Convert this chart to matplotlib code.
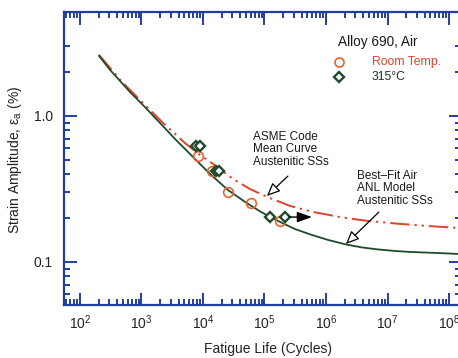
import matplotlib
matplotlib.use("Agg")
import matplotlib.pyplot as plt
from matplotlib.ticker import FixedLocator, NullFormatter, FixedFormatter

plt.rcParams['font.family'] = ['Liberation Sans', 'DejaVu Sans']
plt.rcParams['mathtext.fontset'] = 'custom'
plt.rcParams['mathtext.rm'] = 'Liberation Sans'
plt.rcParams['mathtext.it'] = 'Liberation Sans:italic'

# Best-fit air curve (ANL model, austenitic stainless steels)
anl_cycles = [204, 308, 447, 650, 1140, 2000, 3510, 6870, 13000, 25500, 48200, 87700,
              179000, 313000, 592000, 1.08e6, 2.11e6, 3.85e6, 7.02e6, 1.32e7, 2.41e7,
              5.92e7, 1.40e8, 1.6e8]
anl_strain = [2.58, 2.07, 1.74, 1.46, 1.15, 0.896, 0.696, 0.524, 0.401, 0.311, 0.258, 0.220,
              0.188, 0.168, 0.153, 0.1415, 0.1318, 0.1257, 0.1218, 0.1189, 0.117,
              0.1153, 0.1135, 0.1133]

# ASME Code mean curve (austenitic stainless steels)
asme_cycles = [204, 482, 1140, 2240, 5090, 8930, 14600, 30800, 58100, 110000,
               260000, 615000, 1.69e6, 4.31e6, 1.32e7, 4.39e7, 1.40e8, 1.6e8]
asme_strain = [2.62, 1.71, 1.19, 0.896, 0.653, 0.541, 0.469, 0.370, 0.316, 0.279,
               0.242, 0.220, 0.203, 0.192, 0.1835, 0.1765, 0.171, 0.1705]

# Alloy 690 in air: room temperature tests
rt_cycles = [8300, 14000, 25500, 60300, 178600]
rt_strain = [0.532, 0.42, 0.302, 0.254, 0.191]

# Alloy 690 in air: 315 degC tests
ht_cycles = [7700, 8930, 16300, 18200, 122700, 215000]
ht_strain = [0.623, 0.623, 0.42, 0.42, 0.203, 0.203]

# run-out test (no failure) at 315 degC
runout_start = 215000
runout_end = 592000
runout_strain = 0.203

x_major = [1e2, 1e3, 1e4, 1e5, 1e6, 1e7, 1e8]
x_labels = ['$\\mathregular{10^{2}}$', '$\\mathregular{10^{3}}$', '$\\mathregular{10^{4}}$',
            '$\\mathregular{10^{5}}$', '$\\mathregular{10^{6}}$', '$\\mathregular{10^{7}}$',
            '$\\mathregular{10^{8}}$']
y_major = [0.1, 1.0]
y_labels = ['0.1', '1.0']
y_minor = [0.06, 0.07, 0.08, 0.09, 0.2, 0.3, 0.4, 0.5, 0.6, 0.7, 0.8, 0.9, 2, 3]

W, H = 458, 358
fig = plt.figure(figsize=(W / 100, H / 100), dpi=100)
ax = fig.add_axes([64 / W, 1 - 305 / H, 397 / W, 293 / H])
ax.set_xscale('log')
ax.set_yscale('log')
ax.set_xlim(54.95, 1.567e8)
ax.set_ylim(0.0507, 5.157)

spine_col = '#233f9e'
green = '#1f4a2c'
red = '#e2412a'

ax.plot(asme_cycles, asme_strain, color=red, lw=1.4,
        linestyle=(0, (10, 2.5, 1.2, 2.5, 1.2, 2.5)), zorder=2)
ax.plot(anl_cycles, anl_strain, color=green, lw=1.3, zorder=3)

ax.plot(rt_cycles, rt_strain, linestyle='none', marker='o', ms=7, mfc='none',
        mec='#e5642e', mew=1.2, zorder=4)
ax.plot(ht_cycles, ht_strain, linestyle='none', marker='D', ms=5.5, mfc='white',
        mec=green, mew=1.7, zorder=5)

ax.annotate('', xy=(runout_end, runout_strain), xytext=(runout_start, runout_strain),
            arrowprops=dict(arrowstyle='-|>,head_length=0.9,head_width=0.32',
                            color='black', lw=1.0, shrinkA=3, shrinkB=0), zorder=6)

# axis styling
for s in ax.spines.values():
    s.set_color(spine_col)
    s.set_linewidth(1.6)
ax.xaxis.set_major_locator(FixedLocator(x_major))
ax.xaxis.set_major_formatter(FixedFormatter(x_labels))
ax.yaxis.set_major_locator(FixedLocator(y_major))
ax.yaxis.set_major_formatter(FixedFormatter(y_labels))
ax.yaxis.set_minor_locator(FixedLocator(y_minor))
ax.yaxis.set_minor_formatter(NullFormatter())
ax.xaxis.set_minor_formatter(NullFormatter())
ax.tick_params(which='both', direction='in', top=True, right=True, color=spine_col,
               width=1.4, labelcolor='#222222', labelsize=10)
ax.tick_params(which='major', length=9)
ax.tick_params(which='minor', length=4.5)
ax.tick_params(axis='x', pad=6)
ax.tick_params(axis='y', pad=8)

# legend block
ax.text(0.690, 0.898, 'Alloy 690, Air', transform=ax.transAxes, fontsize=9.8,
        color='#1a1a1a', va='center', ha='left')
ax.plot([0.693], [0.829], transform=ax.transAxes, marker='o', ms=6.5, mfc='none',
        mec='#e5642e', mew=1.2, clip_on=False)
ax.text(0.776, 0.829, 'Room Temp.', transform=ax.transAxes, fontsize=8.8,
        color=red, va='center', ha='left')
ax.plot([0.693], [0.778], transform=ax.transAxes, marker='D', ms=5, mfc='white',
        mec=green, mew=1.7, clip_on=False)
ax.text(0.776, 0.778, '315°C', transform=ax.transAxes, fontsize=8.8,
        color='#1e3328', va='center', ha='left')

# curve callouts
ax.text(0.476, 0.532, 'ASME Code\nMean Curve\nAustenitic SSs', transform=ax.transAxes,
        fontsize=8.5, ha='left', va='center', linespacing=1.05, color='#1a1a1a')
ax.annotate('', xy=(0.511, 0.372), xytext=(0.564, 0.440),
            xycoords='axes fraction', textcoords='axes fraction',
            arrowprops=dict(arrowstyle='-|>,head_length=0.8,head_width=0.35',
                            fc='white', ec='black', lw=0.9, shrinkA=0, shrinkB=0))
ax.text(0.738, 0.399, 'Best\u2013Fit Air\nANL Model\nAustenitic SSs', transform=ax.transAxes,
        fontsize=8.5, ha='left', va='center', linespacing=1.05, color='#1a1a1a')
ax.annotate('', xy=(0.710, 0.208), xytext=(0.793, 0.317),
            xycoords='axes fraction', textcoords='axes fraction',
            arrowprops=dict(arrowstyle='-|>,head_length=0.8,head_width=0.35',
                            fc='white', ec='black', lw=0.9, shrinkA=0, shrinkB=0))

fig.text(15 / W, 1 - 160 / H, 'Strain Amplitude, ε$_\\mathregular{a}$ (%)', rotation=90,
         fontsize=10, ha='center', va='center', color='#222222')
fig.text(268 / W, 1 - 349 / H, 'Fatigue Life (Cycles)', fontsize=10, ha='center',
         va='center', color='#222222')

fig.savefig('out.png', dpi=100)
